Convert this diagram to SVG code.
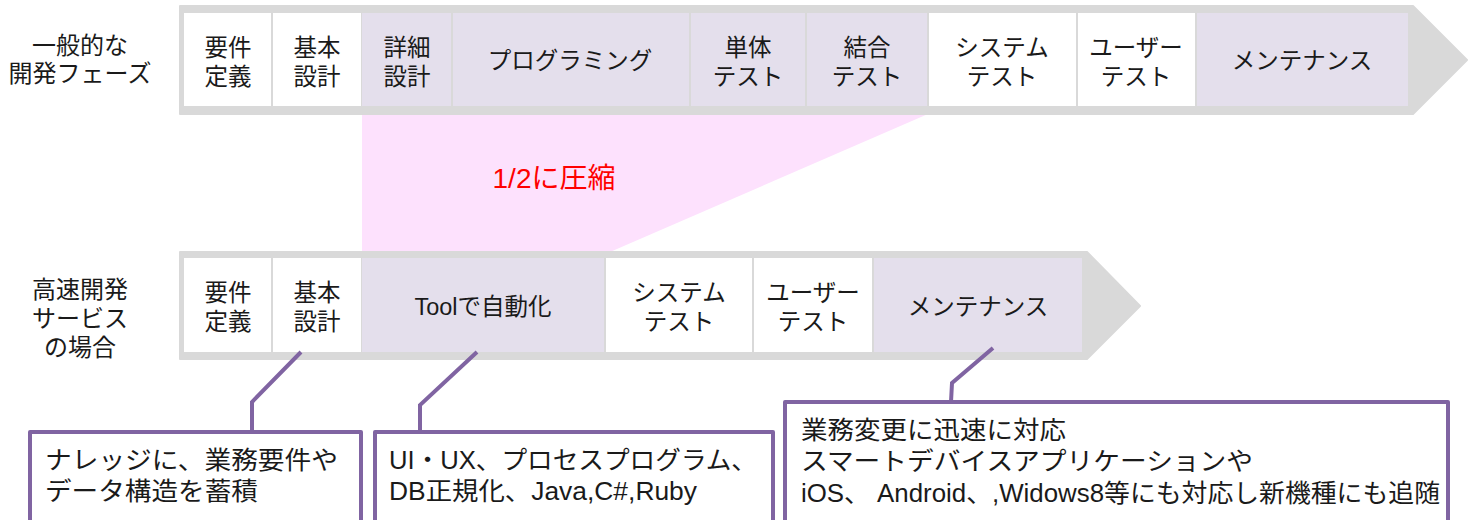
<svg xmlns="http://www.w3.org/2000/svg" width="1471" height="520" viewBox="0 0 1471 520">
<style>
text{font-family:"Liberation Sans","Noto Sans CJK JP",sans-serif;fill:#1a1a1a;dominant-baseline:central}
.c{font-size:23.5px;text-anchor:middle}
.lab{font-size:24px;text-anchor:middle}
.bx{font-size:25px}
.band{fill:#D9D9D9;stroke:#D9D9D9;stroke-width:2;stroke-linejoin:round}
.w{fill:#FFFFFF}
.l{fill:#E4DFEC}
.box{fill:#FFFFFF;stroke:#8064A2;stroke-width:4;stroke-linejoin:round}
.con{fill:none;stroke:#8064A2;stroke-width:4;stroke-linejoin:miter}
</style>
<polygon id="compress-area" points="362,114 928,114 610,252 362,252" fill="#FDE1FD"/>
<text x="554" y="178" style="font-size:28px;fill:#FF0000;text-anchor:middle">1/2に圧縮</text>
<g id="label-general"><text class="lab" x="80" y="45">一般的な<tspan x="80" dy="28">開発フェーズ</tspan></text></g>
<g id="label-fast"><text class="lab" x="80" y="289">高速開発<tspan x="80" dy="29">サービス</tspan><tspan x="80" dy="29">の場合</tspan></text></g>
<g id="band-general">
<polygon class="band" points="180,6 1413,6 1467,60 1413,114 180,114"/>
<g id="g-req"><rect class="w" x="184" y="13" width="87" height="93"/><text class="c" x="228" y="48">要件<tspan x="228" dy="29">定義</tspan></text></g>
<g id="g-basic"><rect class="w" x="273" y="13" width="88" height="93"/><text class="c" x="317" y="48">基本<tspan x="317" dy="29">設計</tspan></text></g>
<g id="g-detail"><rect class="l" x="362" y="13" width="89" height="93"/><text class="c" x="407" y="48">詳細<tspan x="407" dy="29">設計</tspan></text></g>
<g id="g-prog"><rect class="l" x="453" y="13" width="236" height="93"/><text class="c" x="570" y="61">プログラミング</text></g>
<g id="g-unit"><rect class="l" x="691" y="13" width="114" height="93"/><text class="c" x="748" y="48">単体<tspan x="748" dy="29">テスト</tspan></text></g>
<g id="g-integ"><rect class="l" x="807" y="13" width="120" height="93"/><text class="c" x="867" y="48">結合<tspan x="867" dy="29">テスト</tspan></text></g>
<g id="g-sys"><rect class="w" x="929" y="13" width="147" height="93"/><text class="c" x="1002" y="48">システム<tspan x="1002" dy="29">テスト</tspan></text></g>
<g id="g-user"><rect class="w" x="1078" y="13" width="117" height="93"/><text class="c" x="1136" y="48">ユーザー<tspan x="1136" dy="29">テスト</tspan></text></g>
<g id="g-maint"><rect class="l" x="1197" y="13" width="211" height="93"/><text class="c" x="1302" y="61">メンテナンス</text></g>
</g>
<g id="band-fast">
<polygon class="band" points="180,252 1087,252 1140,306 1087,359 180,359"/>
<g id="f-req"><rect class="w" x="184" y="258" width="87" height="94"/><text class="c" x="228" y="293">要件<tspan x="228" dy="29">定義</tspan></text></g>
<g id="f-basic"><rect class="w" x="273" y="258" width="88" height="94"/><text class="c" x="317" y="293">基本<tspan x="317" dy="29">設計</tspan></text></g>
<g id="f-tool"><rect class="l" x="362" y="258" width="242" height="94"/><text class="c" x="483" y="307">Toolで自動化</text></g>
<g id="f-sys"><rect class="w" x="606" y="258" width="146" height="94"/><text class="c" x="679" y="293">システム<tspan x="679" dy="29">テスト</tspan></text></g>
<g id="f-user"><rect class="w" x="754" y="258" width="118" height="94"/><text class="c" x="813" y="293">ユーザー<tspan x="813" dy="29">テスト</tspan></text></g>
<g id="f-maint"><rect class="l" x="874" y="258" width="208" height="94"/><text class="c" x="978" y="307">メンテナンス</text></g>
</g>
<g id="connectors">
<polyline class="con" points="301,352 252,402 252,432"/>
<polyline class="con" points="477,352 420,405 420,432"/>
<polyline class="con" points="993,348 952,383 951,402"/>
</g>
<g id="note-knowledge"><rect class="box" x="30" y="432" width="331" height="110"/>
<text class="bx" x="45" y="460"><tspan x="45" textLength="293" lengthAdjust="spacingAndGlyphs">ナレッジに、業務要件や</tspan><tspan x="45" dy="31" textLength="213" lengthAdjust="spacingAndGlyphs">データ構造を蓄積</tspan></text></g>
<g id="note-tool"><rect class="box" x="375" y="432" width="398" height="110"/>
<text class="bx" x="389" y="460"><tspan x="389" textLength="368" lengthAdjust="spacingAndGlyphs">UI・UX、プロセスプログラム、</tspan><tspan x="389" dy="31" textLength="308" lengthAdjust="spacingAndGlyphs">DB正規化、Java,C#,Ruby</tspan></text></g>
<g id="note-maint"><rect class="box" x="785" y="402" width="663" height="140"/>
<text class="bx" x="801" y="430"><tspan x="801" textLength="265" lengthAdjust="spacingAndGlyphs">業務変更に迅速に対応</tspan><tspan x="801" dy="31" textLength="452" lengthAdjust="spacingAndGlyphs">スマートデバイスアプリケーションや</tspan><tspan x="801" dy="32" textLength="639" lengthAdjust="spacingAndGlyphs">iOS、 Android、,Widows8等にも対応し新機種にも追随</tspan></text></g>
</svg>
